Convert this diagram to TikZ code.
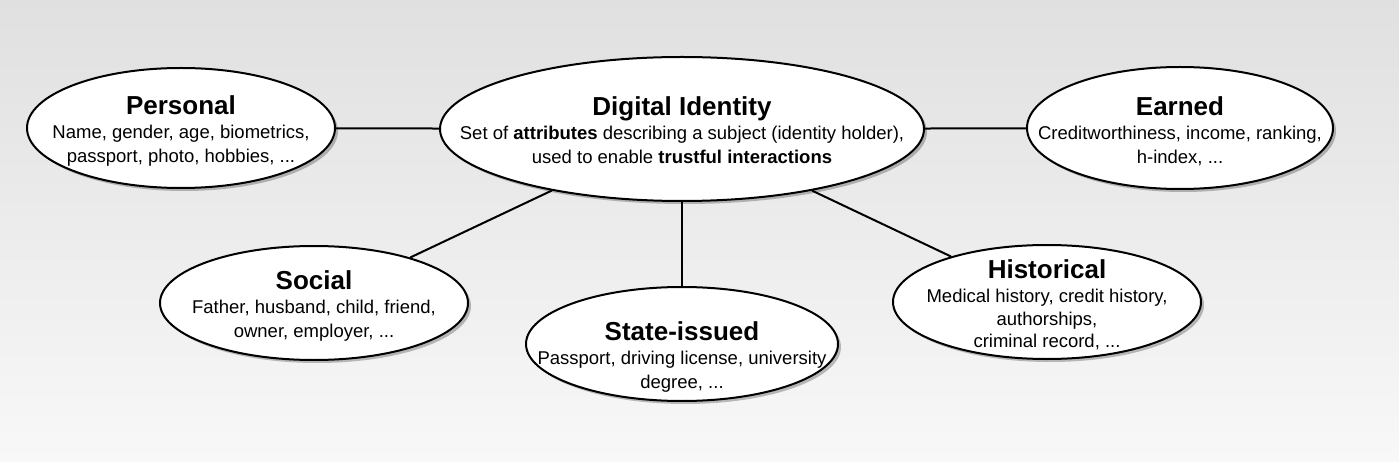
\documentclass[tikz,border=0pt]{standalone}
\usepackage{fontspec}
\setmainfont{Liberation Sans}
\usepackage{tikz}
\usetikzlibrary{shapes.geometric,shadows}
\definecolor{BgTop}{RGB}{224,224,224}
\definecolor{BgBottom}{RGB}{248,248,248}
\newcommand{\ovtitle}[1]{{\fontsize{26}{30}\selectfont\bfseries #1}}

\begin{document}
\begin{tikzpicture}[x=1pt,y=-1pt,
  oval/.style={ellipse,draw,line width=2pt,fill=white,inner sep=0pt,
    drop shadow={shadow xshift=3pt,shadow yshift=-3pt,fill=black,opacity=0.25}},
  ovtext/.style={align=center,inner sep=0pt,font=\fontsize{18.5}{24}\selectfont},
  link/.style={line width=2pt}]
  \shade[top color=BgTop,bottom color=BgBottom] (0,0) rectangle (1399,462);
  \useasboundingbox (0,0) rectangle (1399,462);
  % ovals
  \node[oval,minimum width=484,minimum height=144] (digid) at (682,129) {};
  \node[oval,minimum width=308,minimum height=120] (personal) at (181,128) {};
  \node[oval,minimum width=306,minimum height=122] (earned) at (1180,128) {};
  \node[oval,minimum width=308,minimum height=114] (social) at (314,303) {};
  \node[oval,minimum width=312,minimum height=114] (state) at (682,344) {};
  \node[oval,minimum width=308,minimum height=114] (hist) at (1047,302) {};
  % texts
  \node[ovtext] (digid-txt) at ([yshift=-1pt]digid) {
    \ovtitle{Digital Identity}\\
    Set of \textbf{attributes} describing a subject (identity holder),\\
    used to enable \textbf{trustful interactions}};
  \node[ovtext] (personal-txt) at ([yshift=-3pt]personal) {
    \ovtitle{Personal}\\
    Name, gender, age, biometrics,\\ passport, photo, hobbies, ...};
  \node[ovtext] (earned-txt) at ([yshift=-3pt]earned) {
    \ovtitle{Earned}\\
    Creditworthiness, income, ranking,\\ h-index, ...};
  \node[ovtext] (social-txt) at ([yshift=-3pt]social) {
    \ovtitle{Social}\\
    Father, husband, child, friend,\\ owner, employer, ...};
  \node[ovtext] (state-txt) at ([yshift=-13pt]state) {
    \ovtitle{State-issued}\\
    Passport, driving license, university\\ degree, ...};
  \node[ovtext,font=\fontsize{18.5}{22.5}\selectfont] (hist-txt) at ([yshift=-3pt]hist) {
    \ovtitle{Historical}\\[2pt]
    Medical history, credit history,\\ authorships,\\ criminal record, ...};
  % connectors
  \draw[link] (digid) -- (personal);
  \draw[link] (digid) -- (earned);
  \draw[link] (digid) -- (social);
  \draw[link] (digid) -- (state);
  \draw[link] (digid) -- (hist);
\end{tikzpicture}
\end{document}
